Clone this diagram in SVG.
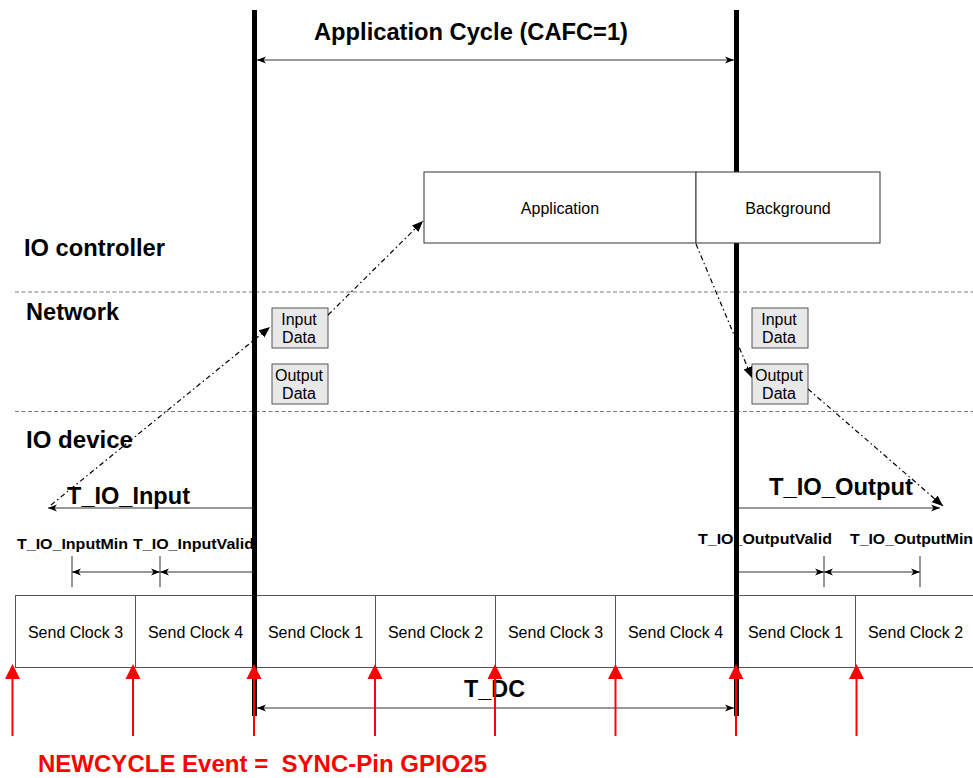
<svg xmlns="http://www.w3.org/2000/svg" width="973" height="778" viewBox="0 0 973 778">
<defs>
<style>
text{font-family:"Liberation Sans",Arial,sans-serif;fill:#000}
.b{font-weight:bold;font-size:23px}
.n{font-size:16px}
.s{font-weight:bold;font-size:14px}
.box{fill:#fff;stroke:#333;stroke-width:1}
.data{fill:#e8e8e8;stroke:#555;stroke-width:1}
.cell{fill:#fff;stroke:#555;stroke-width:1}
.dim{stroke:#333;stroke-width:1;fill:none}
.tick{stroke:#333;stroke-width:1}
.flow{stroke:#000;stroke-width:1.2;stroke-dasharray:5 3 1.5 3;fill:none}
.sep{stroke:#777;stroke-width:1;stroke-dasharray:4 2.5}
.bar{stroke:#000;stroke-width:5}
.red{font-weight:bold;font-size:24px;fill:#f00;white-space:pre}
</style>
<marker id="barb" markerUnits="userSpaceOnUse" markerWidth="10" markerHeight="8" refX="9" refY="4" orient="auto-start-reverse" viewBox="0 0 10 8">
<path d="M0,0.5 L9,4 L0,7.5 L2.5,4 z" fill="#000"/>
</marker>
<marker id="tri" markerUnits="userSpaceOnUse" markerWidth="12" markerHeight="10" refX="11" refY="5" orient="auto" viewBox="0 0 12 10">
<path d="M0,0.5 L11,5 L0,9.5 z" fill="#000"/>
</marker>
<g id="sync">
<line x1="0" y1="676" x2="0" y2="736" stroke="#f00" stroke-width="2"/>
<polygon points="0,664 7.5,679 -7.5,679" fill="#f00"/>
</g>
</defs>

<rect width="973" height="778" fill="#fff"/>

<!-- layer separators -->
<g id="separators">
<line class="sep" x1="15" y1="292" x2="973" y2="292"/>
<line class="sep" x1="15" y1="411.5" x2="973" y2="411.5"/>
</g>

<!-- send clock row -->
<g id="send-clocks">
<g id="sc-a"><rect class="cell" x="15.5" y="595.5" width="120" height="72"/><text class="n" x="75.5" y="637.5" text-anchor="middle">Send Clock 3</text></g>
<g id="sc-b"><rect class="cell" x="135.5" y="595.5" width="120" height="72"/><text class="n" x="195.5" y="637.5" text-anchor="middle">Send Clock 4</text></g>
<g id="sc-c"><rect class="cell" x="255.5" y="595.5" width="120" height="72"/><text class="n" x="315.5" y="637.5" text-anchor="middle">Send Clock 1</text></g>
<g id="sc-d"><rect class="cell" x="375.5" y="595.5" width="120" height="72"/><text class="n" x="435.5" y="637.5" text-anchor="middle">Send Clock 2</text></g>
<g id="sc-e"><rect class="cell" x="495.5" y="595.5" width="120" height="72"/><text class="n" x="555.5" y="637.5" text-anchor="middle">Send Clock 3</text></g>
<g id="sc-f"><rect class="cell" x="615.5" y="595.5" width="120" height="72"/><text class="n" x="675.5" y="637.5" text-anchor="middle">Send Clock 4</text></g>
<g id="sc-g"><rect class="cell" x="735.5" y="595.5" width="120" height="72"/><text class="n" x="795.5" y="637.5" text-anchor="middle">Send Clock 1</text></g>
<g id="sc-h"><rect class="cell" x="855.5" y="595.5" width="120" height="72"/><text class="n" x="915.5" y="637.5" text-anchor="middle">Send Clock 2</text></g>
</g>

<!-- timing sub-labels -->
<g id="timing-labels">
<text class="s" x="17" y="549" textLength="111" lengthAdjust="spacingAndGlyphs">T_IO_InputMin</text>
<text class="s" x="133" y="549" textLength="121" lengthAdjust="spacingAndGlyphs">T_IO_InputValid</text>
<text class="s" x="698" y="544" textLength="134" lengthAdjust="spacingAndGlyphs">T_IO_OutputValid</text>
<text class="s" x="850" y="544" textLength="123" lengthAdjust="spacingAndGlyphs">T_IO_OutputMin</text>
</g>

<!-- cycle boundaries -->
<g id="cycle-bars">
<line class="bar" x1="254.5" y1="10" x2="254.5" y2="716"/>
<line class="bar" x1="736.5" y1="10" x2="736.5" y2="716"/>
</g>

<!-- IO controller tasks -->
<g id="application">
<rect class="box" x="424" y="172" width="272" height="71"/>
<text class="n" x="560" y="214" text-anchor="middle">Application</text>
</g>
<g id="background">
<rect class="box" x="696" y="172" width="184" height="71"/>
<text class="n" x="788" y="214" text-anchor="middle">Background</text>
</g>

<!-- network frames -->
<g id="input-data-1">
<rect class="data" x="272" y="308" width="56" height="40"/>
<text class="n" x="299" y="325" text-anchor="middle">Input</text>
<text class="n" x="299" y="343" text-anchor="middle">Data</text>
</g>
<g id="output-data-1">
<rect class="data" x="272" y="364" width="56" height="40"/>
<text class="n" x="299" y="381" text-anchor="middle">Output</text>
<text class="n" x="299" y="399" text-anchor="middle">Data</text>
</g>
<g id="input-data-2">
<rect class="data" x="752" y="308" width="56" height="40"/>
<text class="n" x="779" y="325" text-anchor="middle">Input</text>
<text class="n" x="779" y="343" text-anchor="middle">Data</text>
</g>
<g id="output-data-2">
<rect class="data" x="752" y="364" width="56" height="40"/>
<text class="n" x="779" y="381" text-anchor="middle">Output</text>
<text class="n" x="779" y="399" text-anchor="middle">Data</text>
</g>

<!-- connectors -->
<g id="connectors">
<line class="dim" x1="257" y1="60" x2="734" y2="60" marker-start="url(#barb)" marker-end="url(#barb)"/>
<line class="dim" x1="254" y1="508" x2="48" y2="508" marker-end="url(#barb)"/>
<line class="dim" x1="739" y1="508" x2="940" y2="508" marker-end="url(#barb)"/>
<line class="tick" x1="72" y1="556" x2="72" y2="587"/>
<line class="tick" x1="160" y1="556" x2="160" y2="587"/>
<line class="dim" x1="72" y1="572" x2="160" y2="572" marker-start="url(#barb)" marker-end="url(#barb)"/>
<line class="dim" x1="254" y1="572" x2="160" y2="572" marker-end="url(#barb)"/>
<line class="tick" x1="824" y1="556" x2="824" y2="587"/>
<line class="tick" x1="920" y1="556" x2="920" y2="587"/>
<line class="dim" x1="739" y1="572" x2="824" y2="572" marker-end="url(#barb)"/>
<line class="dim" x1="824" y1="572" x2="920" y2="572" marker-start="url(#barb)" marker-end="url(#barb)"/>
<line class="dim" x1="257" y1="708" x2="734" y2="708" marker-start="url(#barb)" marker-end="url(#barb)"/>
<line class="flow" x1="51" y1="505" x2="270" y2="327" marker-end="url(#tri)"/>
<line class="flow" x1="328" y1="315" x2="423" y2="221" marker-end="url(#tri)"/>
<line class="flow" x1="696" y1="244" x2="752" y2="378" marker-end="url(#tri)"/>
<line class="flow" x1="808" y1="389" x2="943" y2="506" marker-end="url(#tri)"/>
</g>

<!-- headings -->
<g id="headings">
<text class="b" x="314" y="40" textLength="314" lengthAdjust="spacingAndGlyphs">Application Cycle (CAFC=1)</text>
<text class="b" x="24" y="256" textLength="141" lengthAdjust="spacingAndGlyphs">IO controller</text>
<text class="b" x="26" y="320" textLength="93" lengthAdjust="spacingAndGlyphs">Network</text>
<text class="b" x="26" y="448" textLength="107" lengthAdjust="spacingAndGlyphs">IO device</text>
<text class="b" x="67" y="504" textLength="123" lengthAdjust="spacingAndGlyphs">T_IO_Input</text>
<text class="b" x="769" y="495" textLength="144" lengthAdjust="spacingAndGlyphs">T_IO_Output</text>
<text class="b" x="464" y="697" textLength="61" lengthAdjust="spacingAndGlyphs">T_DC</text>
</g>

<!-- NEWCYCLE events -->
<g id="newcycle-events">
<use href="#sync" x="12.5"/>
<use href="#sync" x="133"/>
<use href="#sync" x="254"/>
<use href="#sync" x="375"/>
<use href="#sync" x="495"/>
<use href="#sync" x="615.5"/>
<use href="#sync" x="736"/>
<use href="#sync" x="856.5"/>
<text class="red" x="38" y="772" xml:space="preserve" textLength="449" lengthAdjust="spacingAndGlyphs">NEWCYCLE Event =  SYNC-Pin GPIO25</text>
</g>
</svg>
